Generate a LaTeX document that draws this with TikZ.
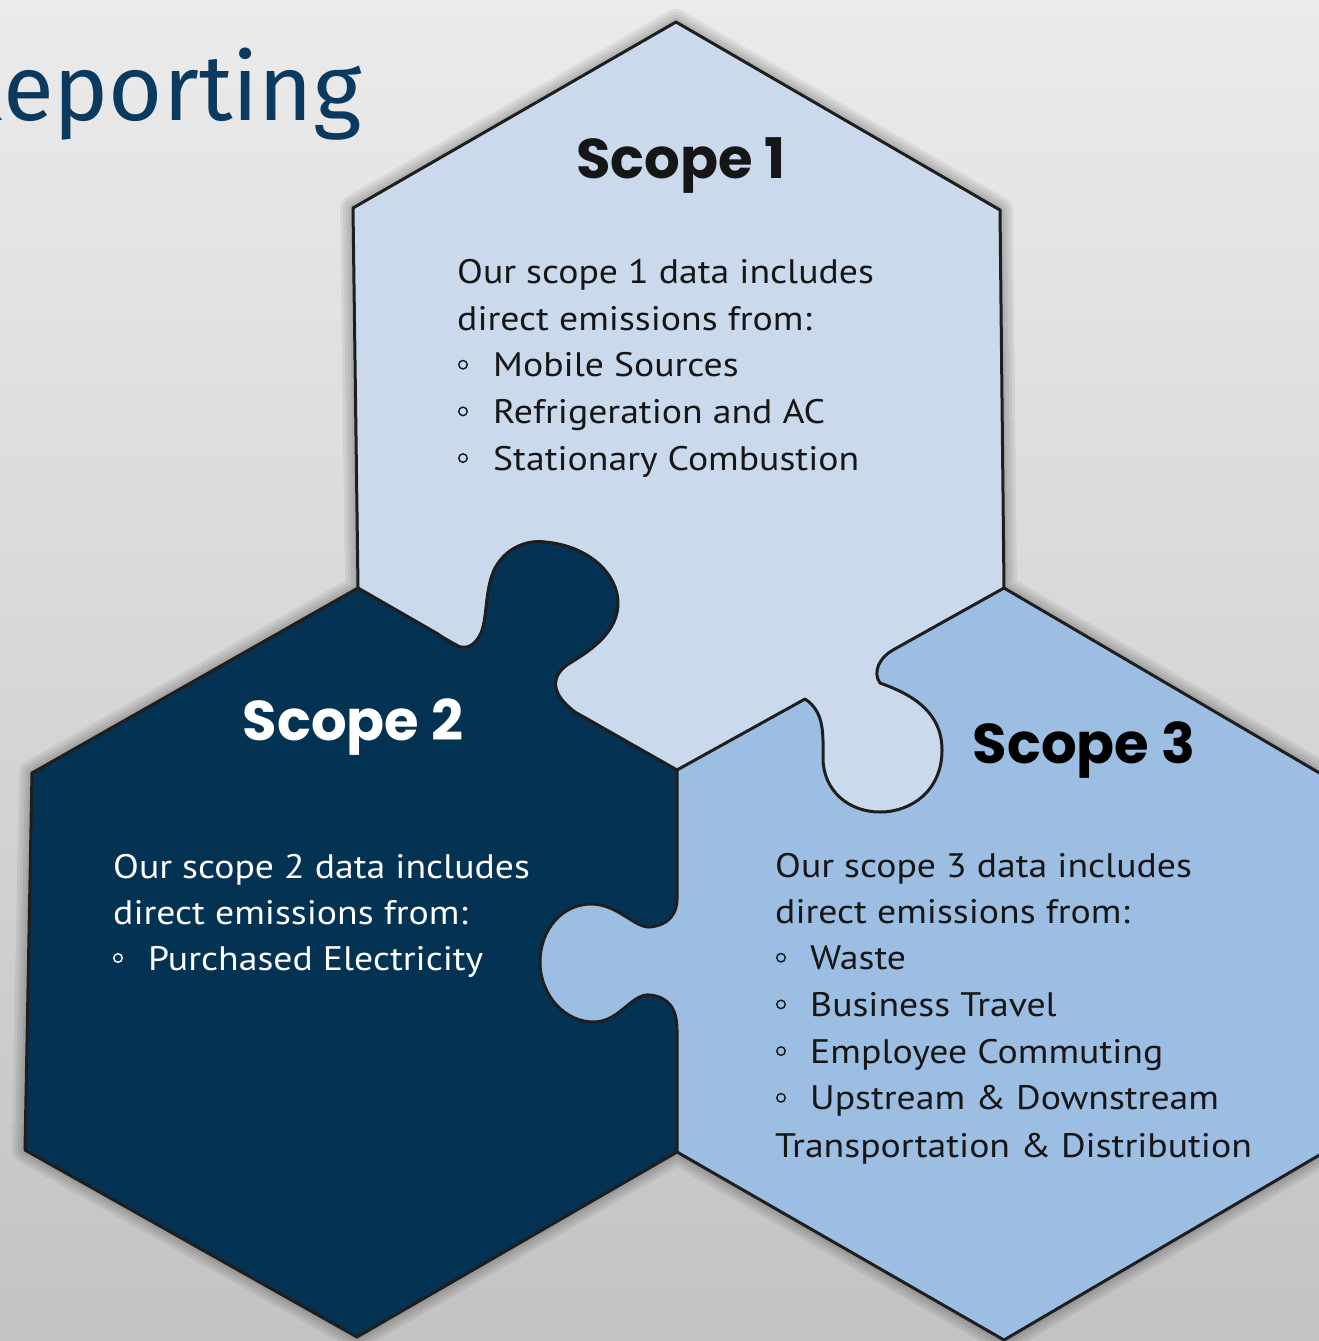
\documentclass[tikz,border=0pt]{standalone}
\usepackage{fontspec}
\setmainfont{PT Sans}[FakeStretch=1.11]
\newfontfamily\headfont{Poppins}
\newfontfamily\titlefont{Fira Sans}

\definecolor{scopeone}{HTML}{CADAEC}
\definecolor{scopetwo}{HTML}{033253}
\definecolor{scopethree}{HTML}{9DBEE3}
\definecolor{titleblue}{HTML}{0A3A5F}
\definecolor{ink}{HTML}{161616}
\definecolor{edge}{HTML}{1E1E1E}
\definecolor{bgtop}{HTML}{EBEBEB}
\definecolor{bgbot}{HTML}{C3C3C3}

\def\bodysize{\fontsize{34}{40}\selectfont}
\def\headsize{\fontsize{56}{60}\selectfont}
\def\silhouette{(t1) -- (ur1) -- (v13) -- (ur3) -- (lr3) -- (b3) -- (jb) -- (b2) -- (ll2) -- (ul2) -- (v12) -- (ul1) -- cycle}

\begin{document}
\begin{tikzpicture}[x=1pt, y=-1pt,
bodytext/.style={font=\bodysize, anchor=base west, inner sep=0pt},
headtext/.style={font=\headfont\bfseries\headsize, anchor=base, inner sep=0pt},
ring/.style={circle, draw, line width=1.4pt, inner sep=0pt, minimum size=8.5pt},
outline/.style={draw=edge, line width=3pt, line join=round},
tabfill/.style={line width=2pt},
]

\clip (0,0) rectangle (1319,1341);
\shade[top color=bgtop, bottom color=bgbot] (0,0) rectangle (1319,1341);

% Corners:
\coordinate (t1) at (676,22);
\coordinate (ur1) at (1000,210);
\coordinate (ul1) at (353,208);
\coordinate (v12) at (358,588);
\coordinate (v13) at (1004,588);
\coordinate (j) at (677,770);
\coordinate (ul2) at (32,773);
\coordinate (ll2) at (25,1150);
\coordinate (b2) at (357,1337);
\coordinate (jb) at (677,1152);
\coordinate (ur3) at (1328,778);
\coordinate (lr3) at (1328,1150);
\coordinate (b3) at (1004,1340);

% Soft shadow:
\foreach \w in {26,20,14,8}
  \draw[black, opacity=0.06, line width=\w pt, line join=round] \silhouette;

% Hexagons:
\fill[scopeone] (t1) -- (ur1) -- (v13) -- (j) -- (v12) -- (ul1) -- cycle;
\fill[scopetwo] (v12) -- (j) -- (jb) -- (b2) -- (ll2) -- (ul2) -- cycle;
\fill[scopethree] (v13) -- (ur3) -- (lr3) -- (b3) -- (jb) -- (j) -- cycle;

% Tabs:
\filldraw[scopetwo, tabfill] (438,634) .. controls (452,645) and (468,657) .. (480,635)
  .. controls (488,620) and (484,590) .. (495,568)
  .. controls (508,545) and (530,540) .. (545,542)
  .. controls (590,546) and (618,575) .. (618,603)
  .. controls (618,630) and (595,648) .. (570,663)
  .. controls (552,674) and (548,692) .. (575,712) -- cycle;
\filldraw[scopeone, tabfill] (893,650) .. controls (880,657) and (872,672) .. (880,683)
  .. controls (905,692) and (942,708) .. (942,750)
  .. controls (942,790) and (912,812) .. (880,812)
  .. controls (848,812) and (823,790) .. (823,758)
  .. controls (823,735) and (825,712) .. (805,699) -- cycle;
\filldraw[scopethree, tabfill] (677,895) .. controls (678,915) and (668,925) .. (650,927)
  .. controls (635,928) and (618,905) .. (593,904)
  .. controls (562,903) and (540,930) .. (540,962)
  .. controls (540,995) and (565,1023) .. (595,1022)
  .. controls (620,1021) and (632,993) .. (650,995)
  .. controls (668,997) and (677,1008) .. (677,1030) -- cycle;

% Outlines:
\draw[outline] \silhouette;
\draw[outline] (v12) -- (438,634) .. controls (452,645) and (468,657) .. (480,635)
  .. controls (488,620) and (484,590) .. (495,568)
  .. controls (508,545) and (530,540) .. (545,542)
  .. controls (590,546) and (618,575) .. (618,603)
  .. controls (618,630) and (595,648) .. (570,663)
  .. controls (552,674) and (548,692) .. (575,712) -- (j);
\draw[outline] (v13) -- (893,650) .. controls (880,657) and (872,672) .. (880,683)
  .. controls (905,692) and (942,708) .. (942,750)
  .. controls (942,790) and (912,812) .. (880,812)
  .. controls (848,812) and (823,790) .. (823,758)
  .. controls (823,735) and (825,712) .. (805,699) -- (j);
\draw[outline] (j) -- (677,895) .. controls (678,915) and (668,925) .. (650,927)
  .. controls (635,928) and (618,905) .. (593,904)
  .. controls (562,903) and (540,930) .. (540,962)
  .. controls (540,995) and (565,1023) .. (595,1022)
  .. controls (620,1021) and (632,993) .. (650,995)
  .. controls (668,997) and (677,1008) .. (677,1030) -- (jb);

% Title:
\node[font=\titlefont\fontsize{93}{100}\selectfont, text=titleblue, anchor=base east, inner sep=0pt] (title) at (362,120) {Reporting};

% Scope 1:
\node[headtext, text=ink] (h1) at (681,178) {Scope 1};
\node[bodytext, text=ink] (s1l1) at (457,283) {Our scope 1 data includes};
\node[bodytext, text=ink] (s1l2) at (457,330) {direct emissions from:};
\foreach \entry [count=\i] in {Mobile Sources, Refrigeration and AC, Stationary Combustion}
{
  \node[bodytext, text=ink] (s1e\i) at (493,330+46.7*\i) {\entry};
  \node[ring, draw=ink] (s1r\i) at (463,318+46.7*\i) {};
}

% Scope 2:
\node[headtext, text=white] (h2) at (353,740) {Scope 2};
\node[bodytext, text=white] (s2l1) at (113,878) {Our scope 2 data includes};
\node[bodytext, text=white] (s2l2) at (113,924) {direct emissions from:};
\node[bodytext, text=white] (s2e1) at (148,970) {Purchased Electricity};
\node[ring, draw=white] (s2r1) at (118,958) {};

% Scope 3:
\node[headtext, text=black] (h3) at (1084,763) {Scope 3};
\node[bodytext, text=ink] (s3l1) at (775,877) {Our scope 3 data includes};
\node[bodytext, text=ink] (s3l2) at (775,923) {direct emissions from:};
\foreach \entry [count=\i] in {Waste, Business Travel, Employee Commuting, Upstream \& Downstream}
{
  \node[bodytext, text=ink] (s3e\i) at (810,923+46.7*\i) {\entry};
  \node[ring, draw=ink] (s3r\i) at (781,911+46.7*\i) {};
}
\node[bodytext, text=ink] (s3l3) at (775,1157) {Transportation \& Distribution};
\end{tikzpicture}
\end{document}
